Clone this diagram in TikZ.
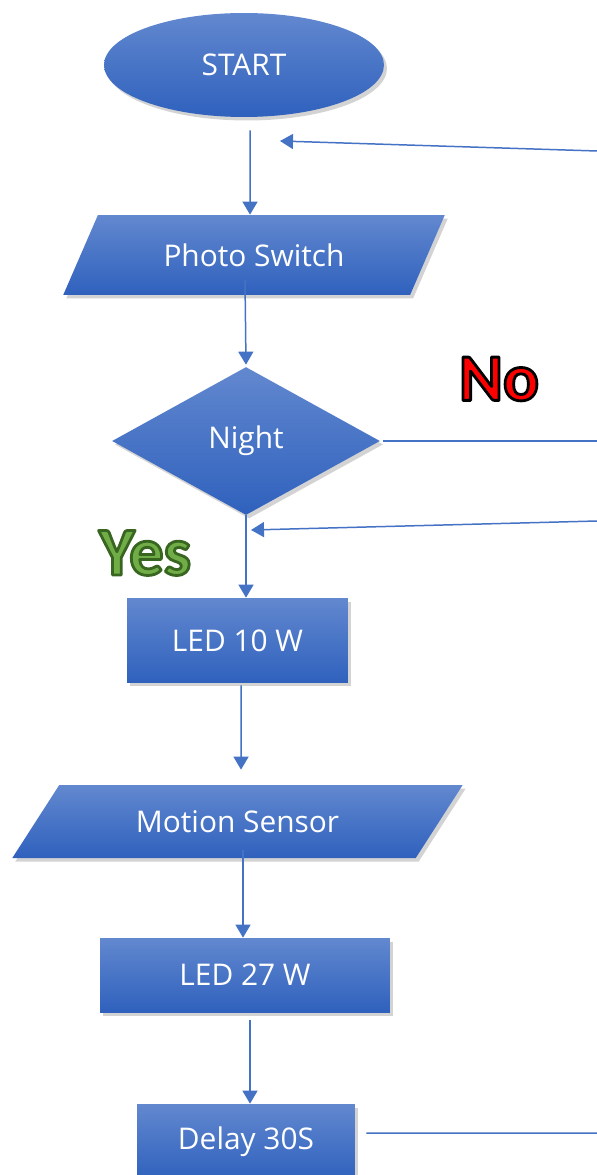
\documentclass[tikz,border=0pt]{standalone}
\usepackage{fontspec}
\setmainfont{Open Sans}
\newfontfamily\labelfont{Carlito}
\usepackage{tikz}
\usetikzlibrary{arrows.meta,positioning,shapes.geometric,shadows}
\definecolor{shapetop}{HTML}{6288CF}
\definecolor{shapebot}{HTML}{2F61BD}
\definecolor{linkblue}{HTML}{4472C4}
\definecolor{nored}{HTML}{FF0000}
\definecolor{yesgreen}{HTML}{70AD47}
\newcommand{\outlinetext}[3]{{\color{#1}\special{pdf:code #2 RG 1.6 w 1 j 2 Tr}#3\special{pdf:code 0 Tr}}}
\tikzset{
  flowcard/.style={draw=none,top color=shapetop,bottom color=shapebot,
                   text=white,inner sep=0pt,font=\fontsize{17}{20}\selectfont,
                   drop shadow={opacity=0.35,shadow xshift=0.06cm,shadow yshift=-0.07cm}},
  termcard/.style={flowcard,ellipse},
  iocard/.style={flowcard,trapezium,trapezium stretches=true},
  decicard/.style={flowcard,diamond},
  proccard/.style={flowcard,rectangle},
  bluearr/.style={-{Triangle[length=0.26cm,width=0.3cm]},line width=0.85pt,
                  draw=linkblue},
  blueline/.style={line width=0.85pt,draw=linkblue},
  nolabel/.style={font=\labelfont\bfseries\fontsize{38}{40}\selectfont,inner sep=0pt},
  yeslabel/.style={font=\labelfont\bfseries\fontsize{39}{40}\selectfont,inner sep=0pt}
}
\begin{document}
\begin{tikzpicture}[x=0.02cm,y=-0.02cm]
  \path[use as bounding box] (0,0) rectangle (597,1175);
  % flow boxes
  \node[termcard,minimum width=5.6cm,minimum height=2.08cm] (start) at (244,65) {START};
  \node[iocard,trapezium left angle=48.8,trapezium right angle=131.2,
        minimum width=7.64cm,minimum height=1.6cm] (photo) at (254,255) {Photo Switch};
  \node[decicard,minimum width=5.36cm,minimum height=2.96cm] (night) at (246,441) {Night};
  \node[proccard,minimum width=4.42cm,minimum height=1.7cm] (led10) at (237.5,640.5) {LED 10 W};
  \node[iocard,trapezium left angle=39.7,trapezium right angle=140.3,
        minimum width=9.02cm,minimum height=1.46cm] (motion) at (237.5,821.5) {Motion Sensor};
  \node[proccard,minimum width=5.8cm,minimum height=1.48cm] (led27) at (245,975) {LED 27 W};
  \node[proccard,minimum width=4.36cm,minimum height=1.52cm] (delay) at (246,1142) {Delay 30S};
  % loose ends at the right border
  \coordinate (topback) at (597,151);
  \coordinate (topin) at (280,141);
  \coordinate (noout) at (597,441);
  \coordinate (midback) at (597,521);
  \coordinate (midin) at (251,530);
  \coordinate (delayout) at (597,1133);
  % connectors
  \draw[bluearr] ([shift={(0.12cm,-0.26cm)}]start.south) -- ([xshift=-0.08cm]photo.north);
  \draw[bluearr] ([shift={(-0.18cm,-0.5cm)}]photo.center) -- ([yshift=0.04cm]night.north);
  \draw[bluearr] (night.south) -- (night.south |- led10.north);
  \draw[bluearr] ([shift={(0.07cm,-0.04cm)}]led10.south) -- ([shift={(0.07cm,0.3cm)}]motion.north);
  \draw[bluearr] ([shift={(0.11cm,-0.57cm)}]motion.center) -- ([xshift=0.11cm]motion.center |- led27.north);
  \draw[bluearr] ([shift={(0.1cm,-0.16cm)}]led27.south) -- ([xshift=0.1cm]led27.south |- delay.north);
  \draw[bluearr] (topback) -- (topin);
  \draw[blueline] ([xshift=0.06cm]night.east) -- (noout);
  \draw[bluearr] (midback) -- (midin);
  \draw[blueline] ([shift={(0.22cm,0.18cm)}]delay.east) -- (delayout);
  % branch labels
  \node[yeslabel] (yeslbl) at (145,553) {\outlinetext{yesgreen}{0.22 0.40 0.13}{Yes}};
  \node[nolabel] (nolbl) at (499,379) {\outlinetext{nored}{0 0 0}{No}};
\end{tikzpicture}
\end{document}
